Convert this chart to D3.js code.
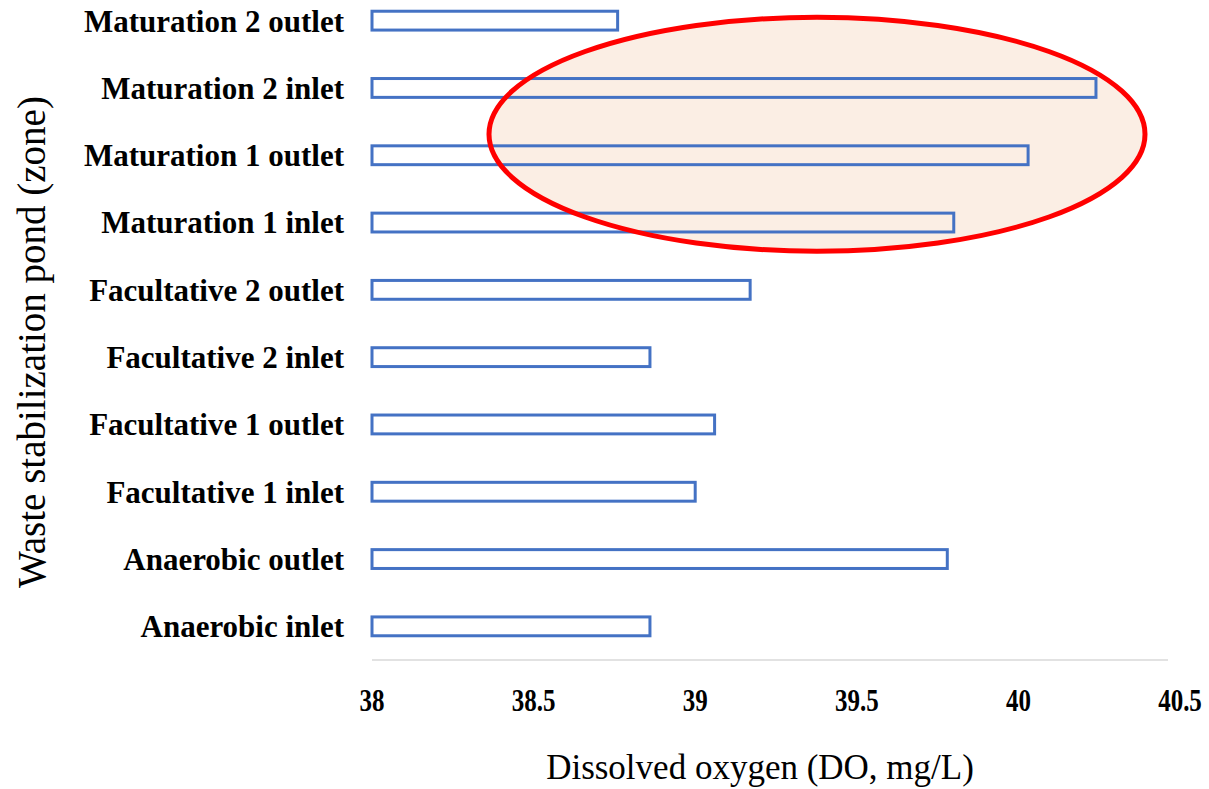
<!DOCTYPE html>
<html>
  <head>
    <title>Dissolved oxygen by pond zone</title>
    <script src="https://d3js.org/d3.v7.min.js" charset="utf-8"></script>
    <style>
      body { margin: 0; background: #fff; }
      text { font-family: "Liberation Serif", "Times New Roman", serif; }
    </style>
  </head>
  <body>
    <script>
      // zones, listed bottom to top as in the chart
      var zones = ["Anaerobic inlet", "Anaerobic outlet", "Facultative 1 inlet", "Facultative 1 outlet",
                   "Facultative 2 inlet", "Facultative 2 outlet", "Maturation 1 inlet", "Maturation 1 outlet",
                   "Maturation 2 inlet", "Maturation 2 outlet"];
      var doValues = [38.86, 39.78, 39.0, 39.06, 38.86, 39.17, 39.80, 40.03, 40.24, 38.76];
      var xTicks = [38, 38.5, 39, 39.5, 40, 40.5];
      // the highlighted zones
      var circled = ["Maturation 1 inlet", "Maturation 2 inlet"];

      var width = 1209;
      var height = 789;

      var svg = d3.select("body")
        .append("svg")
        .attr("width", width)
        .attr("height", height);

      var x = d3.scaleLinear()
        .domain([38, 40.5])
        .range([372, 1180]);

      var y = d3.scaleBand()
        .domain(zones)
        .range([660, -13])
        .paddingInner(0.72)
        .paddingOuter(0.36);

      // highlight ellipse, sits a bit above the middle of the circled rows
      var yTop = y(circled[1]) + y.bandwidth() / 2;
      var yBot = y(circled[0]) + y.bandwidth() / 2;
      var ell = {cx: 817, cy: (yTop + yBot) / 2 - 21, rx: 328, ry: 117};

      svg.append("ellipse")
        .attr("cx", ell.cx).attr("cy", ell.cy)
        .attr("rx", ell.rx).attr("ry", ell.ry)
        .attr("fill", "#fbeee4");

      // axis line
      svg.append("line")
        .attr("x1", x(38)).attr("x2", 1168)
        .attr("y1", 660).attr("y2", 660)
        .attr("stroke", "#d9d9d9")
        .attr("stroke-width", 1.5);

      // bars, outline only
      svg.append("g").selectAll("rect")
        .data(zones)
        .enter()
        .append("rect")
        .attr("x", x(38))
        .attr("y", function(d) { return y(d); })
        .attr("width", function(d, i) { return x(doValues[i]) - x(38); })
        .attr("height", y.bandwidth())
        .attr("fill", "none")
        .attr("stroke", "#4472c4")
        .attr("stroke-width", 3);

      // red outline on top
      svg.append("ellipse")
        .attr("cx", ell.cx).attr("cy", ell.cy)
        .attr("rx", ell.rx).attr("ry", ell.ry)
        .attr("fill", "none")
        .attr("stroke", "#ff0000")
        .attr("stroke-width", 5);

      // category labels
      svg.append("g").selectAll("text")
        .data(zones)
        .enter()
        .append("text")
        .attr("x", 344)
        .attr("y", function(d) { return y(d) + y.bandwidth() / 2; })
        .attr("dy", "0.35em")
        .attr("text-anchor", "end")
        .attr("font-size", 31)
        .attr("font-weight", "bold")
        .text(function(d) { return d; });

      // tick labels (the original font is tall and narrow)
      svg.append("g").selectAll("text")
        .data(xTicks)
        .enter()
        .append("text")
        .attr("transform", function(d) { return "translate(" + x(d) + ",711) scale(1,1.3)"; })
        .attr("text-anchor", "middle")
        .attr("font-size", 25)
        .attr("font-weight", "bold")
        .text(function(d) { return d; });

      // axis titles
      svg.append("text")
        .attr("x", 760)
        .attr("y", 779)
        .attr("text-anchor", "middle")
        .attr("font-size", 35)
        .text("Dissolved oxygen (DO, mg/L)");

      svg.append("text")
        .attr("transform", "translate(45,342) rotate(-90)")
        .attr("text-anchor", "middle")
        .attr("font-size", 39)
        .text("Waste stabilization pond (zone)");
    </script>
  </body>
</html>
